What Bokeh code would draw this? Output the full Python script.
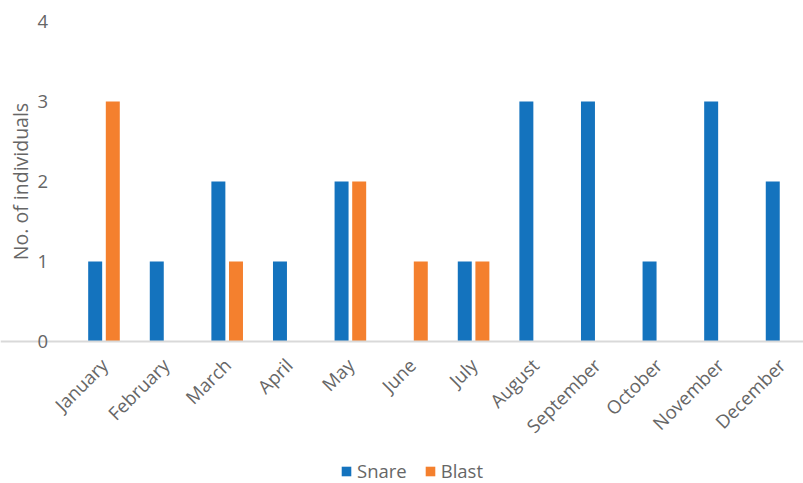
from bokeh.plotting import figure
from bokeh.models import ColumnDataSource, Range1d, Legend, LegendItem, FixedTicker, LinearAxis
from bokeh.transform import dodge
from bokeh.embed import file_html
from bokeh.resources import INLINE
import math

months = ["January", "February", "March", "April", "May", "June", "July",
          "August", "September", "October", "November", "December"]
snare = [1, 1, 2, 1, 2, 0, 1, 3, 3, 1, 3, 2]
blast = [3, 0, 1, 0, 2, 1, 1, 0, 0, 0, 0, 0]
y_ticks = [0, 1, 2, 3, 4]

idx = list(range(len(months)))
src = ColumnDataSource(dict(idx=idx, month=months, snare=snare, blast=blast))

FONT = "Open Sans"
GRAY = "#666666"

p = figure(width=803, height=483, output_backend="svg", toolbar_location=None,
           x_range=Range1d(-1.680, 11.356), y_range=Range1d(-1.775, 4.2625),
           min_border_left=0, min_border_right=0, min_border_top=0,
           min_border_bottom=0, x_axis_location=None, y_axis_location=None)
p.outline_line_color = None
p.xgrid.grid_line_color = None
p.ygrid.grid_line_color = None
p.background_fill_color = "white"
p.border_fill_color = "white"

r1 = p.vbar(x=dodge("idx", -0.143), top="snare", width=0.227,
            source=src, fill_color="#1473BE", line_color=None)
r2 = p.vbar(x=dodge("idx", 0.143), top="blast", width=0.227,
            source=src, fill_color="#F4802E", line_color=None)

xaxis = LinearAxis(fixed_location=0)
xaxis.ticker = FixedTicker(ticks=idx)
xaxis.major_label_overrides = {i: m for i, m in zip(idx, months)}
xaxis.axis_line_color = "#d9d9d9"
xaxis.axis_line_width = 2
xaxis.major_tick_line_color = None
xaxis.minor_tick_line_color = None
xaxis.major_label_orientation = math.pi / 4
xaxis.major_label_text_font = FONT
xaxis.major_label_text_font_size = "18.5px"
xaxis.major_label_text_color = GRAY
xaxis.major_label_standoff = 14
p.add_layout(xaxis, "below")

yaxis = LinearAxis(fixed_location=-0.5, bounds=(y_ticks[0], y_ticks[-1]))
yaxis.ticker = FixedTicker(ticks=y_ticks)
yaxis.axis_line_color = None
yaxis.major_tick_line_color = None
yaxis.minor_tick_line_color = None
yaxis.major_label_text_font = FONT
yaxis.major_label_text_font_size = "18.5px"
yaxis.major_label_text_color = GRAY
yaxis.major_label_standoff = 19
yaxis.axis_label = "No. of individuals"
yaxis.axis_label_text_font = FONT
yaxis.axis_label_text_font_size = "19.5px"
yaxis.axis_label_text_font_style = "normal"
yaxis.axis_label_text_color = GRAY
yaxis.axis_label_standoff = 1
p.add_layout(yaxis, "left")

legend = Legend(items=[LegendItem(label="Snare", renderers=[r1]),
                       LegendItem(label="Blast", renderers=[r2])],
                orientation="horizontal", location=(340, 0),
                glyph_width=12, glyph_height=12, label_text_font=FONT,
                label_text_font_size="18.5px", label_text_color=GRAY,
                label_standoff=5, spacing=17, padding=0, margin=0,
                label_height=18, border_line_color=None,
                background_fill_alpha=0)
p.add_layout(legend, "center")

open("out.html", "w").write(file_html(p, INLINE))
